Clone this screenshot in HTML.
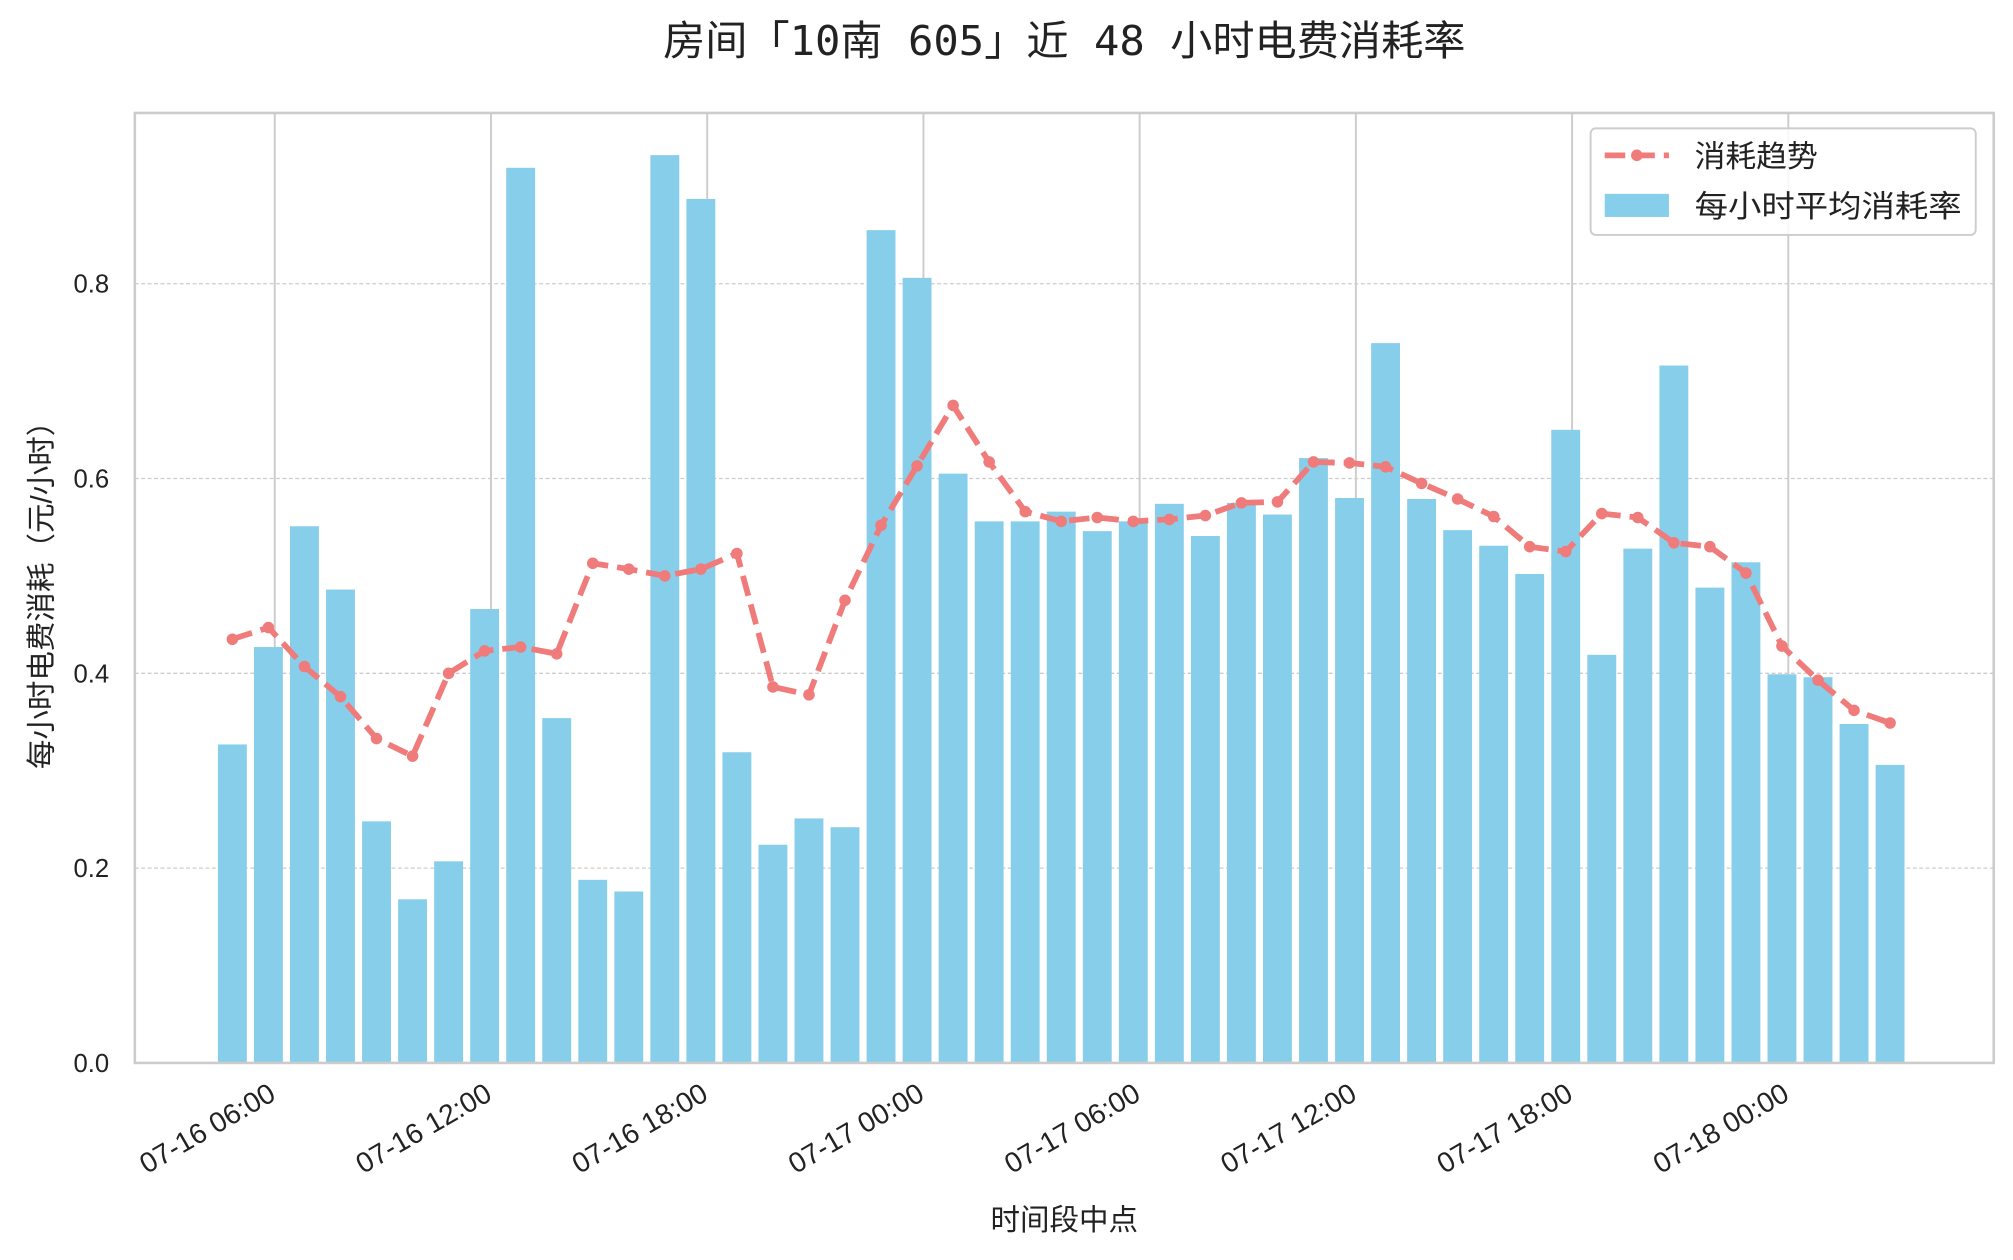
<!DOCTYPE html>
<html><head><meta charset="utf-8"><style>
html,body{margin:0;padding:0;background:#fff;}
svg{display:block;font-family:"Liberation Sans","Noto Sans CJK SC",sans-serif;}
</style></head><body>
<svg id="chart" width="2013" height="1260" viewBox="0 0 1568 981.5" xmlns="http://www.w3.org/2000/svg">
<rect width="1568" height="981.5" fill="#fff"/>
<text x="829" y="43" text-anchor="middle" font-size="32" fill="#222" font-family="'DejaVu Sans Mono','Noto Sans CJK SC',monospace" textLength="625" lengthAdjust="spacingAndGlyphs">房间「10南 605」近 48 小时电费消耗率</text>
<g id="grid"></g>
<g id="bars"></g>
<g id="line"></g>
<rect x="105" y="88" width="1448" height="740" fill="none" stroke="#cccccc" stroke-width="2"/>
<g id="axes"></g>
<text x="829" y="958" text-anchor="middle" font-size="23" fill="#222">时间段中点</text>
<text transform="translate(40,458) rotate(-90)" text-anchor="middle" font-size="23" fill="#222">每小时电费消耗（元/小时）</text>
<g>
<rect x="1239" y="100" width="300" height="83" rx="4" fill="#fff" fill-opacity="0.85" stroke="#cccccc" stroke-width="1.5"/>
<line x1="1250" y1="121" x2="1300" y2="121" stroke="#f07b7b" stroke-width="4.5" stroke-dasharray="16,7"/>
<circle cx="1275" cy="121" r="4.5" fill="#f07b7b"/>
<text x="1320" y="130" font-size="24" fill="#222">消耗趋势</text>
<rect x="1250" y="151" width="50" height="18" fill="#87ceeb"/>
<text x="1320" y="169" font-size="24" fill="#222" textLength="208" lengthAdjust="spacingAndGlyphs">每小时平均消耗率</text>
</g>
</svg>
<script>
const barValues=[0.327,0.427,0.551,0.486,0.248,0.168,0.207,0.466,0.919,0.354,0.188,0.176,0.932,0.887,0.319,0.224,0.251,0.242,0.855,0.806,0.605,0.556,0.556,0.566,0.546,0.556,0.574,0.541,0.575,0.563,0.621,0.580,0.739,0.579,0.547,0.531,0.502,0.650,0.419,0.528,0.716,0.488,0.514,0.399,0.396,0.348,0.306];
const trendValues=[0.435,0.447,0.407,0.376,0.333,0.315,0.400,0.423,0.427,0.420,0.513,0.507,0.500,0.507,0.523,0.386,0.378,0.475,0.552,0.613,0.675,0.617,0.566,0.556,0.560,0.556,0.558,0.562,0.575,0.576,0.617,0.616,0.612,0.595,0.579,0.561,0.530,0.525,0.564,0.560,0.534,0.530,0.503,0.428,0.393,0.362,0.349];
const firstHour=4.824;
const xTickHours=[6,12,18,24,30,36,42,48];
const xTickLabels=["07-16 06:00","07-16 12:00","07-16 18:00","07-17 00:00","07-17 06:00","07-17 12:00","07-17 18:00","07-18 00:00"];
const yTicks=[0,0.2,0.4,0.6,0.8];
const yTickLabels=["0.0","0.2","0.4","0.6","0.8"];

const NS="http://www.w3.org/2000/svg";
const X=h=>214+(h-6)*(1179/42);
const Y=v=>828-v*(607/0.8);
function mk(tag,attrs,parent){const e=document.createElementNS(NS,tag);for(const k in attrs)e.setAttribute(k,attrs[k]);parent.appendChild(e);return e;}
const grid=document.getElementById('grid'),bars=document.getElementById('bars'),line=document.getElementById('line'),axes=document.getElementById('axes');
yTicks.forEach((v,i)=>{
  if(v>0){const g=mk('line',{x1:105,x2:1553,y1:Y(v),y2:Y(v),stroke:'#cccccc','stroke-width':1,'stroke-dasharray':'3,2'},grid);
  
  }
  const t=mk('text',{x:85,y:Y(v)+7,'text-anchor':'end','font-size':20,fill:'#222'},axes);
  t.textContent=yTickLabels[i];
  
  
});
xTickHours.forEach((h,i)=>{
  const g=mk('line',{x1:X(h),x2:X(h),y1:88,y2:828,stroke:'#cccccc','stroke-width':1.5},grid);
  
  
  const t=mk('text',{transform:`translate(${X(h)+2},${856}) rotate(-30)`,'text-anchor':'end','font-size':22,fill:'#222'},axes);
  t.textContent=xTickLabels[i];
  
  
});
const bw=22.5;
barValues.forEach((v,i)=>{
  const cx=X(firstHour+i);
  const r=mk('rect',{x:cx-bw/2,y:Y(v),width:bw,height:Y(0)-Y(v),fill:'#87ceeb'},bars);
  
  
});
const pts=trendValues.map((v,i)=>X(firstHour+i).toFixed(1)+','+Y(v).toFixed(1)).join(' ');
const pl=mk('polyline',{points:pts,fill:'none',stroke:'#f07b7b','stroke-width':4.5,'stroke-dasharray':'16,7','stroke-linejoin':'round'},line);


trendValues.forEach((v,i)=>{
  const c=mk('circle',{cx:X(firstHour+i),cy:Y(v),r:4.5,fill:'#f07b7b'},line);
  
  
});
</script>
</body></html>
